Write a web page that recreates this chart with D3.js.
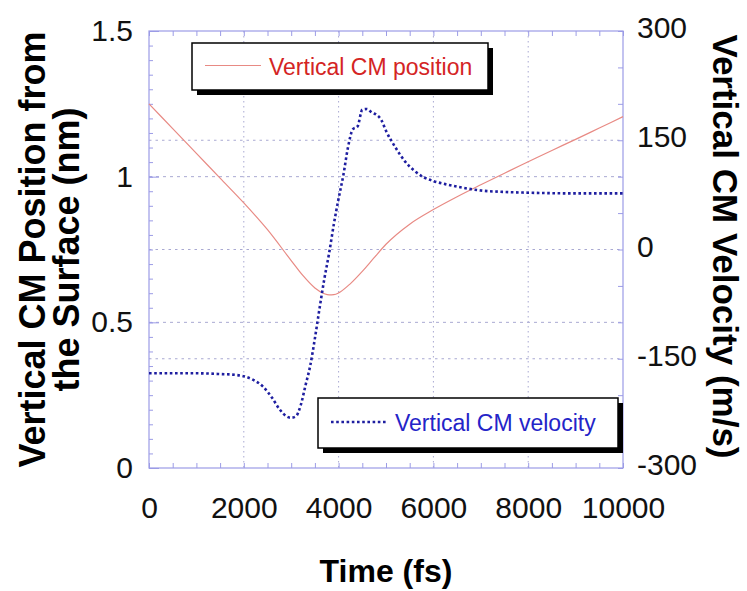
<!DOCTYPE html>
<html>
<head>
<meta charset="utf-8">
<script src="https://cdn.jsdelivr.net/npm/d3@7"></script>
<style>
  body { margin: 0; background: #fff; }
  svg { display: block; font-family: Arial, "Liberation Sans", sans-serif; }
</style>
</head>
<body>
<div id="chart"></div>
<script>
const width = 747;
const height = 591;

// position of the centre of mass (nm) vs time (fs)
const posTime = [0, 500, 1000, 1500, 2000, 2500, 3000, 3250, 3500, 3700, 3800, 3900, 4000, 4250, 4500, 4750, 5000, 5500, 6000, 6500, 7000, 7500, 8000, 8500, 9000, 9500, 10000];
const posValue = [1.25, 1.165, 1.08, 0.995, 0.91, 0.818, 0.712, 0.66, 0.618, 0.598, 0.594, 0.595, 0.601, 0.633, 0.675, 0.722, 0.768, 0.837, 0.887, 0.931, 0.972, 1.012, 1.051, 1.09, 1.128, 1.167, 1.206];

// velocity of the centre of mass (m/s) vs time (fs)
const velTime = [0, 500, 1000, 1500, 1800, 2000, 2200, 2400, 2600, 2750, 2900, 3000, 3100, 3200, 3300, 3400, 3500, 3600, 3700, 3800, 3900, 4000, 4100, 4200, 4300, 4400, 4500, 4600, 4700, 4800, 4900, 5000, 5200, 5400, 5600, 5800, 6000, 6300, 6600, 7000, 7500, 8000, 9000, 10000];
const velValue = [-170, -170, -170, -171, -172, -174, -179, -188, -204, -219, -229, -231, -229, -214, -187, -160, -122, -80, -40, -5, 35, 70, 102, 141, 165, 169, 192, 193, 188, 185, 178, 163, 140, 121, 108, 99, 94, 89, 85, 81, 79, 78, 77, 77];

const xTicks = [0, 2000, 4000, 6000, 8000, 10000];
const yLeftTicks = [0, 0.5, 1, 1.5];
const yRightTicks = [-300, -150, 0, 150, 300];

const plot = {left: 149, right: 623, top: 31, bottom: 468};
const frameColor = "#9c9ce6";
const gridColor = "#a9a9d2";

const x = d3.scaleLinear().domain([0, 10000]).range([plot.left, plot.right]);
const yL = d3.scaleLinear().domain([0, 1.5]).range([plot.bottom, plot.top]);
const yR = d3.scaleLinear().domain([-300, 300]).range([plot.bottom, plot.top]);

const svg = d3.select("#chart")
    .append("svg")
    .attr("width", width)
    .attr("height", height);

// グリッド
const grid = svg.append("g")
    .attr("stroke", gridColor)
    .attr("stroke-width", 1);
grid.selectAll("line.vx")
    .data(xTicks.slice(1, -1))
    .join("line")
    .attr("x1", d => x(d)).attr("x2", d => x(d))
    .attr("y1", plot.top).attr("y2", plot.bottom)
    .attr("stroke-dasharray", "1.5,3.5");
grid.selectAll("line.hl")
    .data(yLeftTicks.slice(1, -1))
    .join("line")
    .attr("x1", plot.left).attr("x2", plot.right)
    .attr("y1", d => yL(d)).attr("y2", d => yL(d))
    .attr("stroke-dasharray", "3,4");
grid.selectAll("line.hr")
    .data(yRightTicks.slice(1, -1))
    .join("line")
    .attr("x1", plot.left).attr("x2", plot.right)
    .attr("y1", d => yR(d)).attr("y2", d => yR(d))
    .attr("stroke-dasharray", "2.5,4");

// 目盛り (内向き)
const styleTicks = g => {
    g.select(".domain").remove();
    g.selectAll("line").attr("stroke", frameColor);
    g.selectAll("text").remove();
};
svg.append("g")
    .attr("transform", `translate(0,${plot.bottom})`)
    .call(d3.axisBottom(x).tickValues(d3.range(0, 10001, 500)).tickSize(-5))
    .call(styleTicks);
svg.append("g")
    .attr("transform", `translate(0,${plot.top})`)
    .call(d3.axisTop(x).tickValues(d3.range(0, 10001, 500)).tickSize(-5))
    .call(styleTicks);
svg.append("g")
    .attr("transform", `translate(${plot.left},0)`)
    .call(d3.axisLeft(yL).tickValues(d3.range(0, 31).map(i => i * 0.05)).tickSize(-4))
    .call(styleTicks);
svg.append("g")
    .attr("transform", `translate(${plot.left},0)`)
    .call(d3.axisLeft(yL).tickValues(yLeftTicks).tickSize(-10))
    .call(styleTicks);
svg.append("g")
    .attr("transform", `translate(${plot.right},0)`)
    .call(d3.axisRight(yR).tickValues(d3.range(-300, 301, 50)).tickSize(-5))
    .call(styleTicks);

// 枠
svg.append("rect")
    .attr("x", plot.left).attr("y", plot.top)
    .attr("width", plot.right - plot.left)
    .attr("height", plot.bottom - plot.top)
    .attr("fill", "none")
    .attr("stroke", frameColor)
    .attr("stroke-width", 1.2);

// ラベル
const labelAxis = g => {
    g.select(".domain").remove();
    g.selectAll("text")
        .attr("font-size", 30)
        .attr("fill", "#111");
};
svg.append("g")
    .attr("transform", `translate(0,${plot.bottom})`)
    .call(d3.axisBottom(x).tickValues(xTicks).tickSize(0).tickPadding(29).tickFormat(d3.format("d")))
    .call(labelAxis);
svg.append("g")
    .attr("transform", `translate(${plot.left},0)`)
    .call(d3.axisLeft(yL).tickValues(yLeftTicks).tickSize(0).tickPadding(16).tickFormat(d => d))
    .call(labelAxis);
svg.append("g")
    .attr("transform", `translate(${plot.right},0)`)
    .call(d3.axisRight(yR).tickValues(yRightTicks).tickSize(0).tickPadding(14).tickFormat(d => d))
    .call(labelAxis)
    .call(g => g.selectAll("text").attr("dy", "0.22em"));

// 軸タイトル
svg.append("text")
    .attr("transform", `translate(45,${(plot.top + plot.bottom) / 2}) rotate(-90)`)
    .attr("text-anchor", "middle")
    .attr("font-size", 36)
    .attr("font-weight", "bold")
    .text("Vertical CM Position from");
svg.append("text")
    .attr("transform", `translate(79,${(plot.top + plot.bottom) / 2}) rotate(-90)`)
    .attr("text-anchor", "middle")
    .attr("font-size", 36)
    .attr("font-weight", "bold")
    .text("the Surface (nm)");
svg.append("text")
    .attr("transform", `translate(713,${(plot.top + plot.bottom) / 2 - 3}) rotate(90)`)
    .attr("text-anchor", "middle")
    .attr("font-size", 35)
    .attr("font-weight", "bold")
    .text("Vertical CM Velocity (m/s)");
svg.append("text")
    .attr("x", (plot.left + plot.right) / 2)
    .attr("y", 582)
    .attr("text-anchor", "middle")
    .attr("font-size", 32)
    .attr("font-weight", "bold")
    .text("Time (fs)");

// 線
const posLine = d3.line()
    .x((d, i) => x(posTime[i]))
    .y(d => yL(d))
    .curve(d3.curveMonotoneX);
const velLine = d3.line()
    .x((d, i) => x(velTime[i]))
    .y(d => yR(d))
    .curve(d3.curveMonotoneX);

svg.append("path")
    .datum(posValue)
    .attr("d", posLine)
    .attr("fill", "none")
    .attr("stroke", "#e88a84")
    .attr("stroke-width", 1.2);
svg.append("path")
    .datum(velValue)
    .attr("d", velLine)
    .attr("fill", "none")
    .attr("stroke", "#1e1ea0")
    .attr("stroke-width", 2.6)
    .attr("stroke-dasharray", "2.6,2.6");

// 凡例
const legend = (bx, by, bw, bh, color, lineColor, dash, lw, label) => {
    const g = svg.append("g");
    g.append("rect")
        .attr("x", bx + 5).attr("y", by + 5)
        .attr("width", bw).attr("height", bh)
        .attr("fill", "#000");
    g.append("rect")
        .attr("x", bx).attr("y", by)
        .attr("width", bw).attr("height", bh)
        .attr("fill", "#fff")
        .attr("stroke", "#000")
        .attr("stroke-width", 1.5);
    g.append("line")
        .attr("x1", bx + 13).attr("x2", bx + 69)
        .attr("y1", by + bh / 2 - 1).attr("y2", by + bh / 2 - 1)
        .attr("stroke", lineColor)
        .attr("stroke-width", lw)
        .attr("stroke-dasharray", dash);
    g.append("text")
        .attr("x", bx + 77)
        .attr("y", by + bh / 2 + 8)
        .attr("font-size", 23)
        .attr("fill", color)
        .text(label);
};
legend(192, 43, 296, 47, "#d42424", "#e88a84", null, 1.2, "Vertical CM position");
legend(318, 398, 300, 50, "#2424c8", "#1e1ea0", "2.6,2.6", 2.6, "Vertical CM velocity");
</script>
</body>
</html>
